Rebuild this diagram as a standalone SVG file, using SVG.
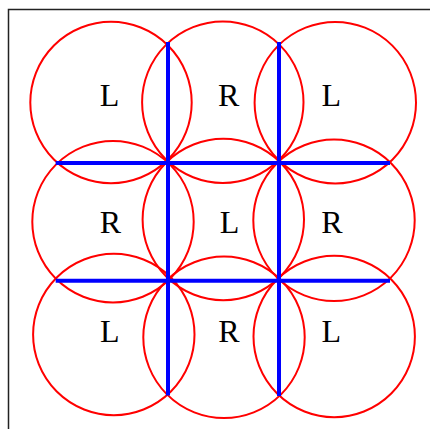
<svg xmlns="http://www.w3.org/2000/svg" width="430" height="429" viewBox="0 0 430 429">
  <style>
    .frame { fill: none; stroke: #222; stroke-width: 1.5; }
    .circ { fill: none; stroke: #ff0000; stroke-width: 2; }
    .edge { stroke: #0000ff; stroke-width: 4; stroke-linecap: butt; }
    .lbl { font-family: "Liberation Serif", "Times New Roman", serif; font-size: 32px; fill: #000; text-anchor: middle; }
  </style>
  <rect class="frame" x="8.5" y="9.5" width="440" height="440"/>
  <g id="c11"><circle class="circ" cx="111" cy="102.5" r="80.7"/><text class="lbl" x="109.5" y="106">L</text></g>
  <g id="c12"><circle class="circ" cx="222.8" cy="102.2" r="80.7"/><text class="lbl" x="228.7" y="106">R</text></g>
  <g id="c13"><circle class="circ" cx="335.3" cy="102.7" r="80.7"/><text class="lbl" x="331.3" y="106">L</text></g>
  <g id="c21"><circle class="circ" cx="113" cy="221.7" r="80.7"/><text class="lbl" x="110.3" y="233">R</text></g>
  <g id="c22"><circle class="circ" cx="223.3" cy="219.5" r="80.7"/><text class="lbl" x="229.5" y="233">L</text></g>
  <g id="c23"><circle class="circ" cx="334" cy="220.3" r="80.7"/><text class="lbl" x="332" y="233">R</text></g>
  <g id="c31"><circle class="circ" cx="113.8" cy="334.5" r="80.7"/><text class="lbl" x="109.7" y="342">L</text></g>
  <g id="c32"><circle class="circ" cx="224" cy="337.3" r="80.7"/><text class="lbl" x="228.8" y="342">R</text></g>
  <g id="c33"><circle class="circ" cx="334.2" cy="336.5" r="80.7"/><text class="lbl" x="331.3" y="342">L</text></g>
  <g id="connectors">
    <line class="edge" x1="168" y1="42" x2="168" y2="395.5"/>
    <line class="edge" x1="279" y1="42" x2="279" y2="396"/>
    <line class="edge" x1="55.7" y1="163" x2="390" y2="163"/>
    <line class="edge" x1="55.7" y1="280.7" x2="390" y2="280.7"/>
  </g>
</svg>
